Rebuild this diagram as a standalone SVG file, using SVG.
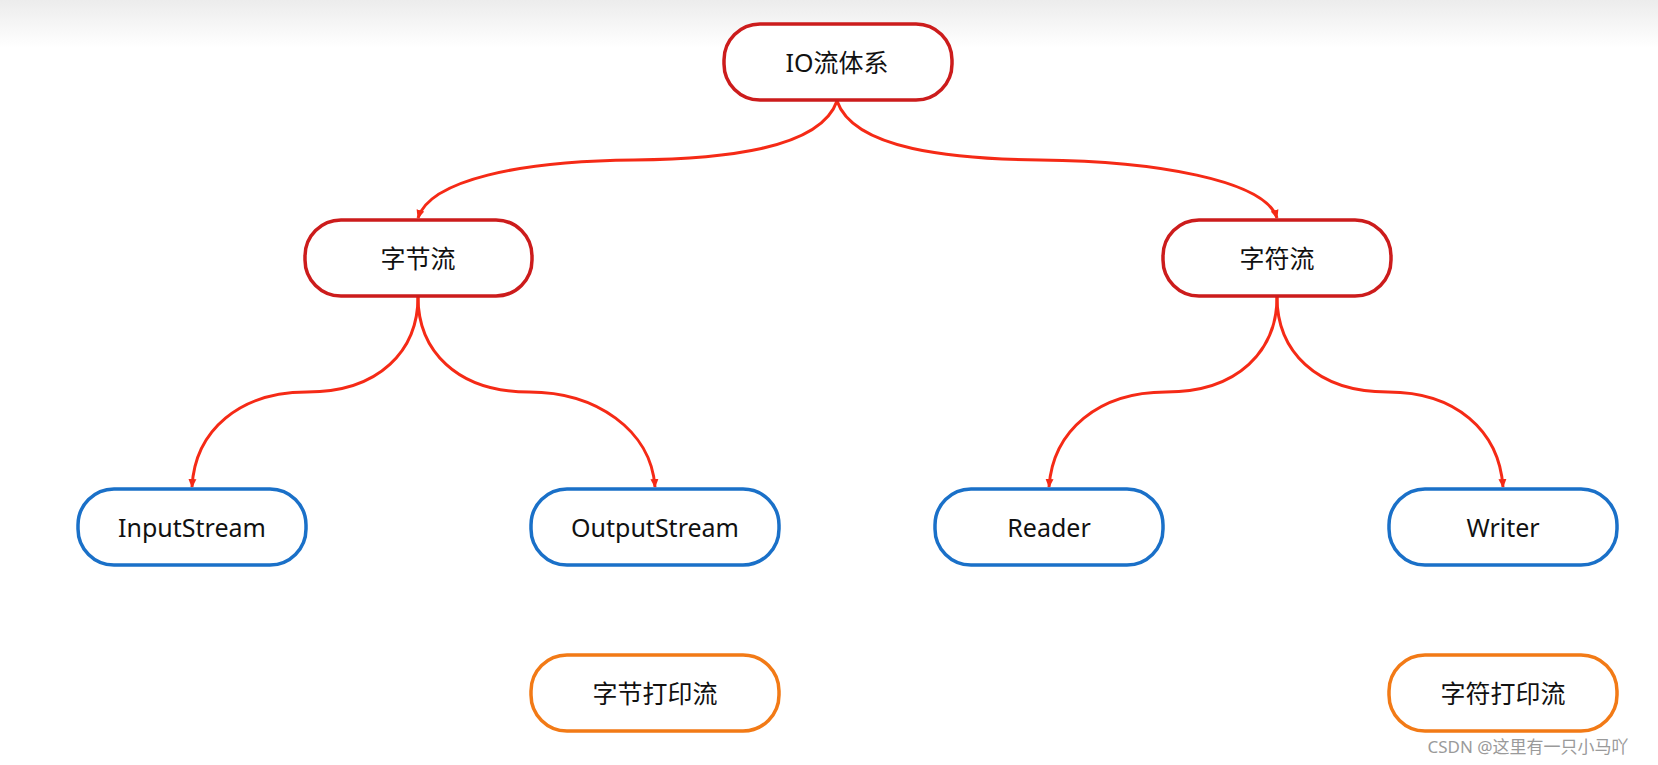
<svg xmlns="http://www.w3.org/2000/svg" width="1658" height="765" viewBox="0 0 1658 765">
<defs>
<linearGradient id="bg" x1="0" y1="0" x2="0" y2="1"><stop offset="0" stop-color="#ececec"/><stop offset="1" stop-color="#ffffff"/></linearGradient>
<marker id="ah" markerWidth="10" markerHeight="10" refX="8" refY="5" orient="auto" markerUnits="userSpaceOnUse"><path d="M0,1 L9,5 L0,9 Z" fill="#f52a16"/></marker>
<style>
.n{fill:#fff;stroke-width:3.5}
.r{stroke:#cc1c1c}.b{stroke:#1a70c8}.o{stroke:#f27a16}
text{font-family:"Noto Sans","Noto Sans CJK SC",sans-serif;font-size:25px;fill:#111;text-anchor:middle;dominant-baseline:central}
.c path{fill:none;stroke:#f52a16;stroke-width:3;marker-end:url(#ah)}
</style>
</defs>
<rect width="1658" height="765" fill="#fff"/>
<rect width="1658" height="48" fill="url(#bg)"/>
<g class="c" id="connectors">
<path d="M837,101 C820,150 720,159 634,160 C520,161 430,180 418,218"/>
<path d="M837,101 C854,150 954,159 1040,160 C1154,161 1265,180 1277,218"/>
<path d="M418,297 C418,350 380,392 307,392 C240,392 195,430 192,487"/>
<path d="M418,297 C418,350 456,392 529,392 C596,392 651,430 655,487"/>
<path d="M1277,297 C1277,350 1239,392 1166,392 C1099,392 1053,430 1049,487"/>
<path d="M1277,297 C1277,350 1315,392 1388,392 C1455,392 1499,430 1503,487"/>
</g>
<g id="io"><rect class="n r" x="724" y="24" width="228" height="76" rx="36"/><text x="837" y="62">IO流体系</text></g>
<g id="byte"><rect class="n r" x="305" y="220" width="227" height="76" rx="36"/><text x="418" y="258">字节流</text></g>
<g id="char"><rect class="n r" x="1163" y="220" width="228" height="76" rx="36"/><text x="1277" y="258">字符流</text></g>
<g id="in"><rect class="n b" x="78" y="489" width="228" height="76" rx="36"/><text x="192" y="527">InputStream</text></g>
<g id="out"><rect class="n b" x="531" y="489" width="248" height="76" rx="36"/><text x="655" y="527">OutputStream</text></g>
<g id="reader"><rect class="n b" x="935" y="489" width="228" height="76" rx="36"/><text x="1049" y="527">Reader</text></g>
<g id="writer"><rect class="n b" x="1389" y="489" width="228" height="76" rx="36"/><text x="1503" y="527">Writer</text></g>
<g id="bprint"><rect class="n o" x="531" y="655" width="248" height="76" rx="36"/><text x="655" y="693">字节打印流</text></g>
<g id="cprint"><rect class="n o" x="1389" y="655" width="228" height="76" rx="36"/><text x="1503" y="693">字符打印流</text></g>
<text x="1528" y="746" style="font-size:17px;fill:#9a9a9a">CSDN @这里有一只小马吖</text>
</svg>
